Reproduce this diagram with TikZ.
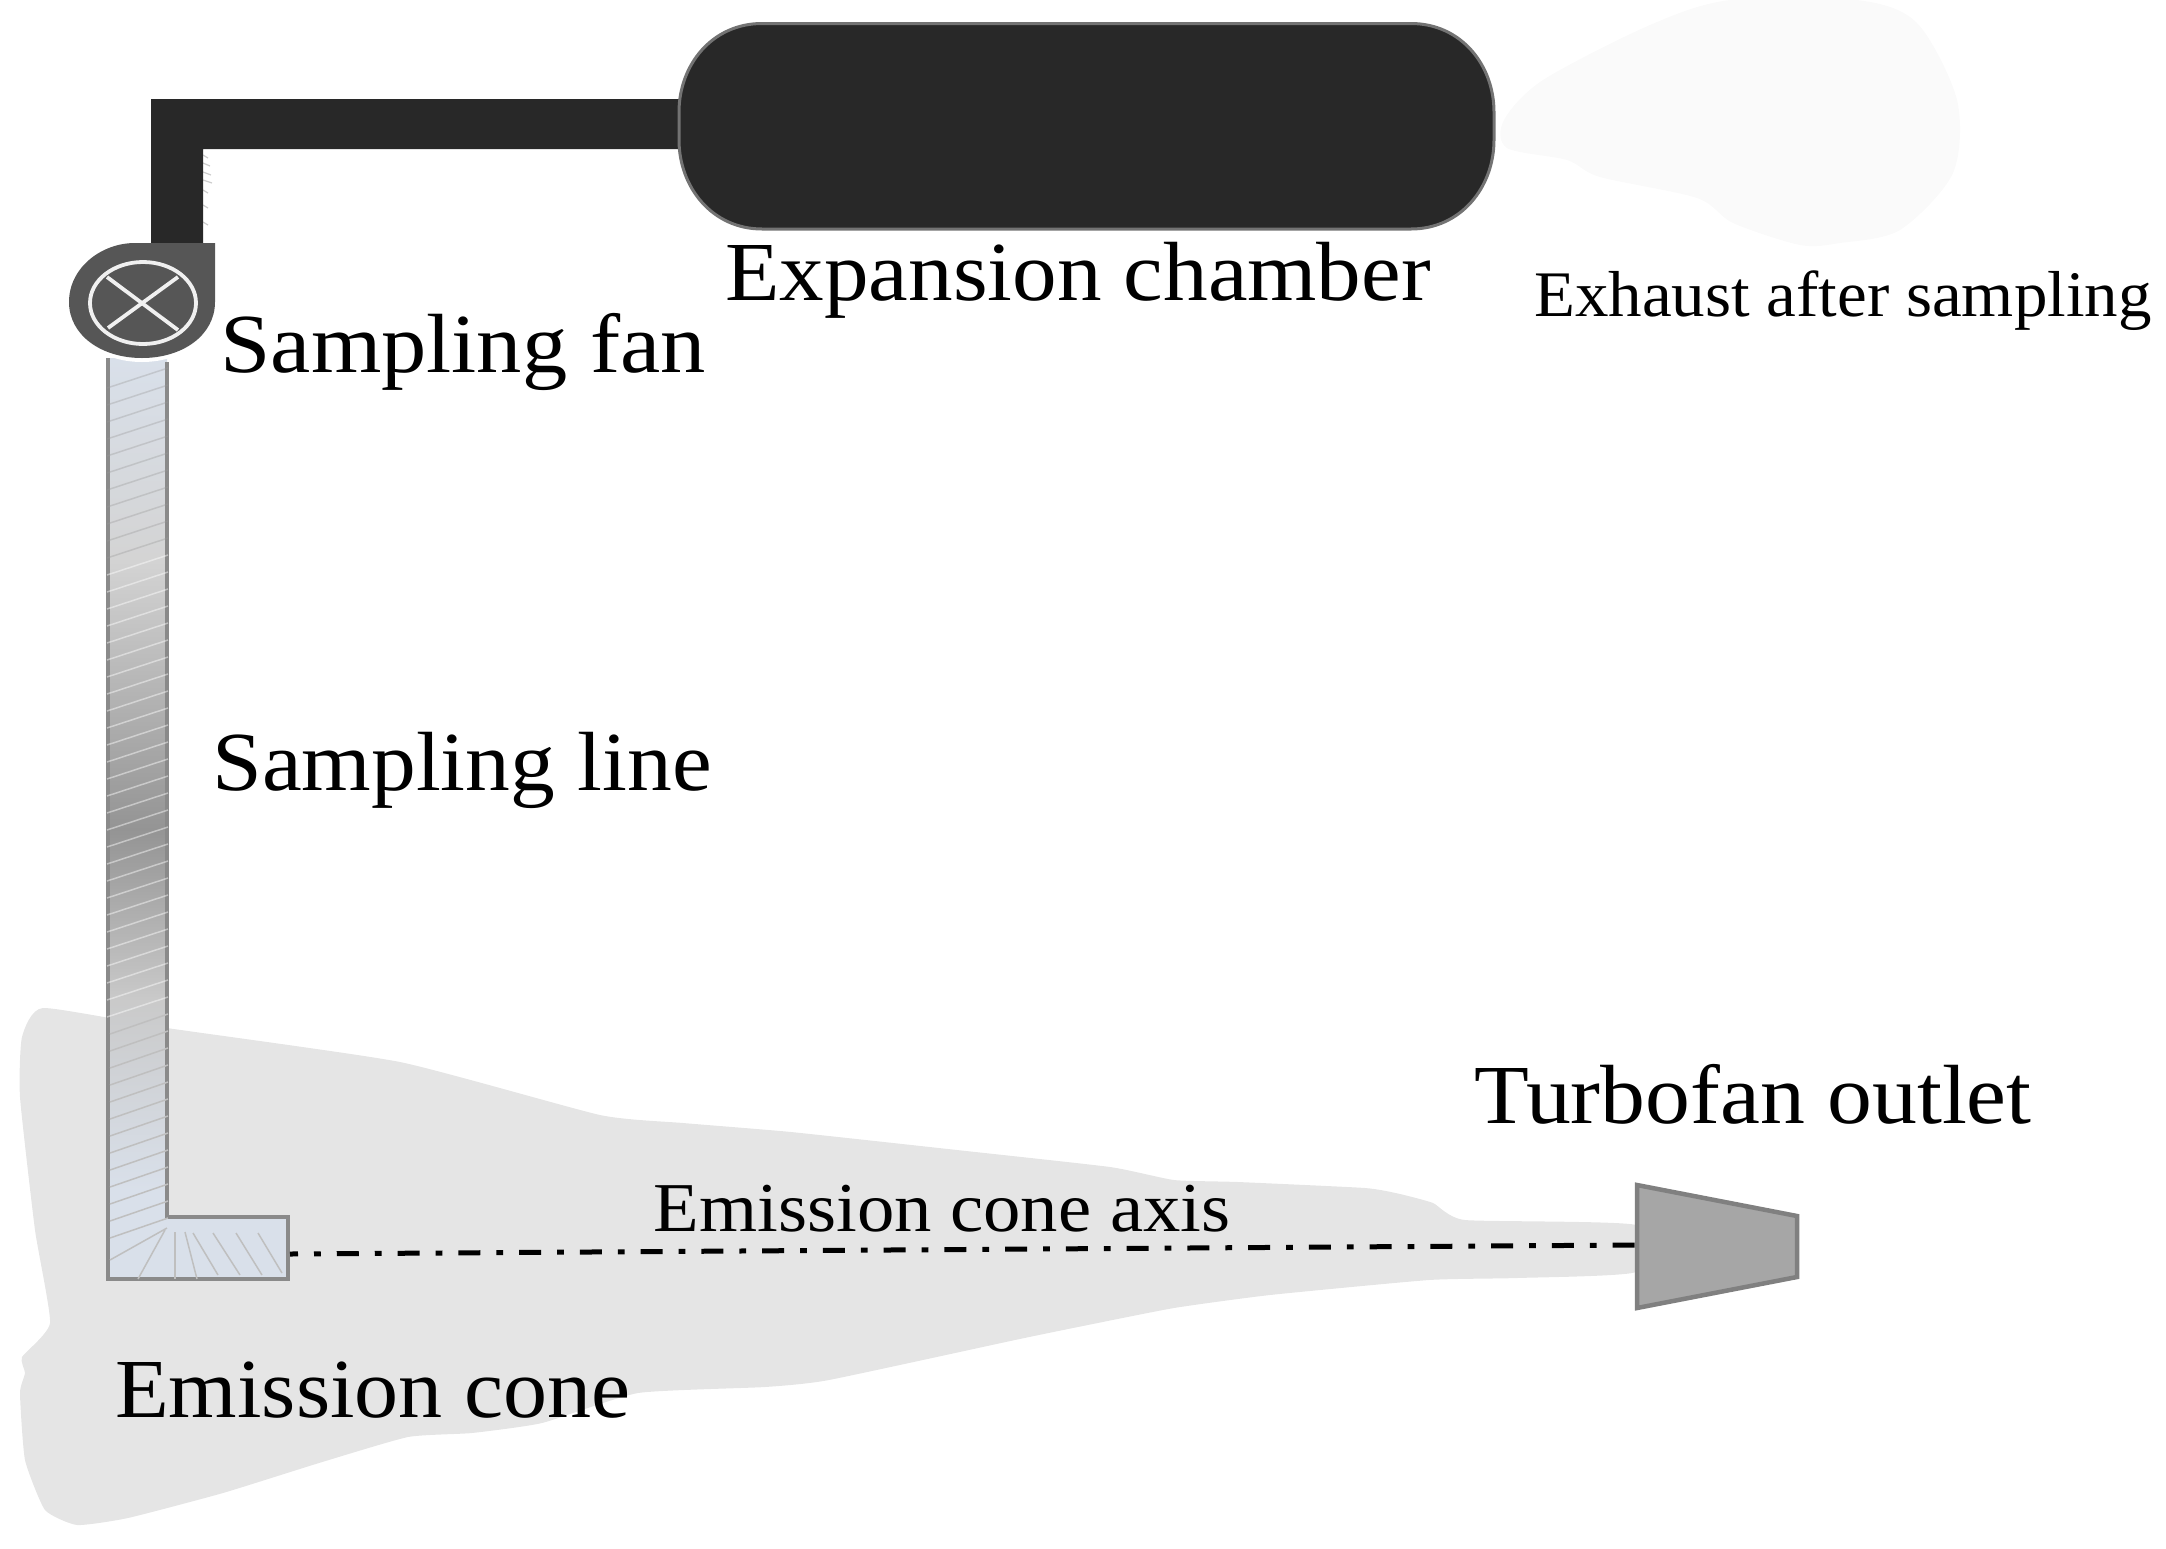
\documentclass[tikz,border=0pt]{standalone}
\usepackage{graphicx}
\usepackage{fontspec}
\setmainfont{Liberation Serif}
\definecolor{duct}{HTML}{282828}
\definecolor{fanc}{HTML}{565656}
\definecolor{conec}{HTML}{E5E5E5}
\definecolor{blob}{HTML}{FAFAFA}
\definecolor{pale}{HTML}{D9E0EA}
\definecolor{edgec}{HTML}{8A8A8A}
\newcommand{\stretched}[2]{\scalebox{#1}[1]{#2}}
\tikzset{
  lab/.style={inner sep=0pt,anchor=base,text=black},
  biglab/.style={lab,font=\fontsize{84}{84}\selectfont},
  smalllab/.style={lab,font=\fontsize{70}{70}\selectfont},
  exhlab/.style={lab,font=\fontsize{65}{65}\selectfont},
  hatchw/.style={draw=white,draw opacity=.45,line width=1.5pt},
  hatchg/.style={draw=black!40,draw opacity=.35,line width=1.5pt},
  hatchb/.style={draw=black!25,line width=1.5pt},
  pipeedge/.style={draw=edgec,line width=3.6pt},
  fanline/.style={draw=white!94!black,line width=3.8pt},
  tick/.style={draw=black!20,line width=1.2pt},
}
\begin{document}
\begin{tikzpicture}[x=1pt,y=-1pt]
\useasboundingbox (0,0) rectangle (2166,1548);
% exhaust
\fill[blob] plot[smooth cycle,tension=.5] coordinates {(1504,120)(1543,80)(1650,25)(1730,0)(1857,0)(1917,23)(1957,100)(1953,173)(1900,230)(1840,243)(1800,245)(1733,223)(1697,198)(1600,177)(1567,160)(1507,148)};
% cone
\fill[conec] plot[smooth cycle,tension=.3] coordinates {(43,1008)(22,1037)(20,1097)(35,1230)(50,1323)(22,1357)(25,1373)(20,1393)(25,1460)(45,1510)(77,1525)(128,1518)(223,1493)(319,1463)(408,1437)(472,1433)(542,1423)(638,1393)(765,1387)(829,1380)(1015,1340)(1078,1327)(1174,1308)(1270,1295)(1429,1280)(1517,1278)(1636,1272)(1636,1225)(1465,1220)(1433,1203)(1400,1194)(1365,1188)(1238,1182)(1174,1180)(1110,1167)(957,1150)(791,1132)(683,1123)(600,1115)(400,1062)(167,1028)};
% sampling line
\shade[top color=pale,bottom color=black!17] (108,358) rectangle (167,560);
\shade[top color=black!17,bottom color=black!42] (108,559) rectangle (167,830);
\shade[top color=black!42,bottom color=black!21] (108,829) rectangle (167,1000);
\shade[top color=black!21,bottom color=pale] (108,999) rectangle (167,1190);
\fill[pale] (108,1189) rectangle (167,1279) (166,1217) rectangle (289,1279);
\draw[pipeedge,line join=miter] (167,362) -- (167,1217) -- (288,1217) -- (288,1279) -- (108,1279) -- (108,358);
\foreach \y in {368,385,...,538}{\draw[hatchg] (107,\y+20) -- (168,\y);}
\foreach \y in {555,572,...,997}{\draw[hatchw] (107,\y+20) -- (168,\y);}
\foreach \y in {1014,1031,...,1218}{\draw[hatchb] (110,\y+20) -- (168,\y);}
\draw[hatchb] (110,1260) -- (167,1228);
\draw[hatchb] (138,1279) -- (165,1230);
\draw[hatchb] (175,1279) -- (175,1232);
\draw[hatchb] (197,1279) -- (185,1232);
\draw[hatchb] (218,1275) -- (193,1233);
\draw[hatchb] (240,1275) -- (213,1233);
\draw[hatchb] (262,1275) -- (236,1233);
\draw[hatchb] (282,1273) -- (258,1233);
% axis
\coordinate (axisA) at (290,1254);
\coordinate (axisB) at (1636,1245);
\draw[line width=5pt,dash pattern=on 22pt off 16pt on 6.76pt off 16pt,dash phase=14pt] (axisA) -- (axisB);
% outlet
\draw[fill=black!35,draw=black!50,line width=4.5pt,line join=miter] (1637,1185) -- (1797,1216) -- (1797,1277) -- (1637,1308) -- cycle;
% ticks beside the duct
\foreach \y/\d in {155/5,163/7,172/8,180/9,190/5,205/5,222/5}{\draw[tick] (203,\y) -- +(\d,3);}
% duct
\fill[duct] (151,243) -- (151,99) -- (690,99) -- (690,149) -- (203,149) -- (203,243) -- cycle;
\draw[fill=duct,draw=black!55,line width=3pt] (762,23.5) -- (1411,23.5) .. controls (1461,23.5) and (1494,65) .. (1494,112) -- (1494,140) .. controls (1494,187) and (1461,229) .. (1411,229) -- (762,229) .. controls (712,229) and (679,187) .. (679,140) -- (679,112) .. controls (679,65) and (712,23.5) .. (762,23.5) -- cycle;
% fan
\draw[white,line width=4pt] (69,302) .. controls (69,335) and (101,360) .. (142,360) .. controls (183,360) and (215,335) .. (215,302);
\fill[fanc] (215,243) -- (215,302) .. controls (215,335) and (183,358) .. (142,358) .. controls (101,358) and (69,335) .. (69,302) .. controls (69,268) and (101,243) .. (135,243) -- cycle;
\draw[fanline] (143,303) ellipse [x radius=53,y radius=41];
\draw[fanline] (107,277) -- (178,330);
\draw[fanline] (178,277) -- (108,328);
% labels
\node[biglab] at (1078,300) {\stretched{1.061}{Expansion chamber}};
\node[biglab] at (463,372) {\stretched{1.077}{Sampling fan}};
\node[biglab] at (462,790) {\stretched{1.065}{Sampling line}};
\node[biglab] at (1753,1123) {\stretched{1.068}{Turbofan outlet}};
\node[biglab] at (373,1417) {\stretched{1.048}{Emission cone}};
\node[exhlab] at (1843,316) {\stretched{1.03}{Exhaust after sampling}};
\node[smalllab] at (942,1231) {\stretched{1.067}{Emission cone axis}};
\end{tikzpicture}
\end{document}
